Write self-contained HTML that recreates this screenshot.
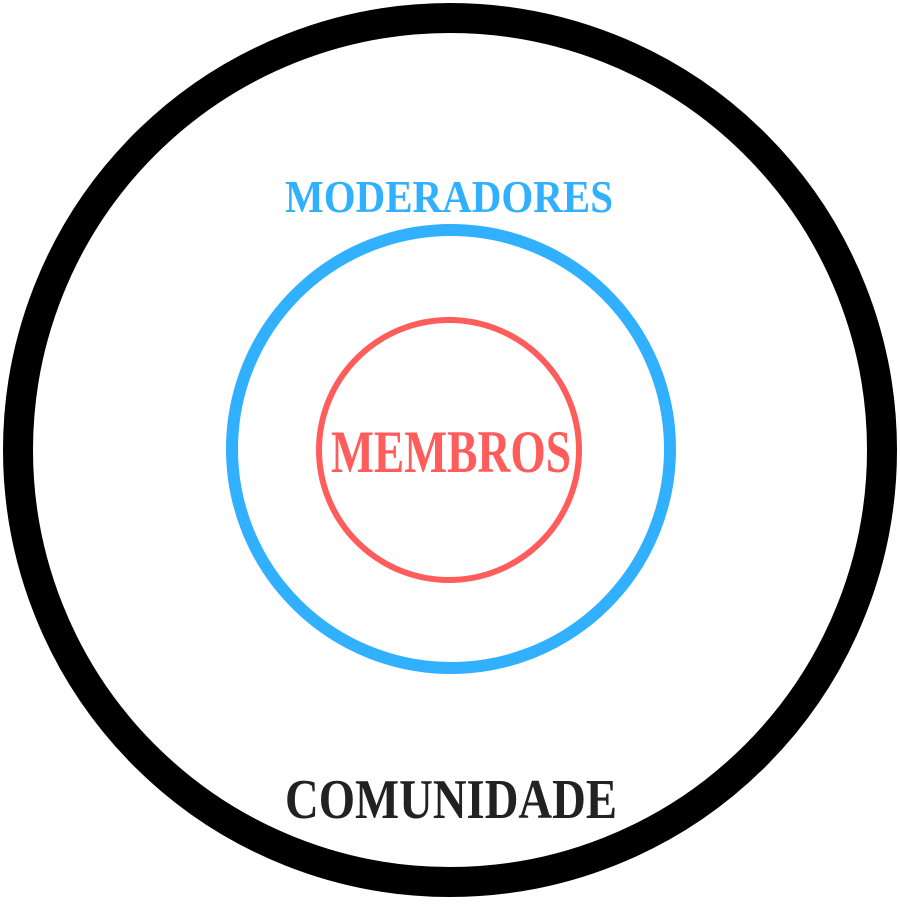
<!DOCTYPE html>
<html><head><style>html,body{margin:0;padding:0;background:#fff;}</style></head>
<body>
<svg width="900" height="900" viewBox="0 0 900 900" xmlns="http://www.w3.org/2000/svg">
<rect width="900" height="900" fill="#fff"/>
<circle cx="450" cy="450" r="432" fill="none" stroke="#000" stroke-width="30"/>
<circle cx="451" cy="449" r="219" fill="none" stroke="#30b0ff" stroke-width="12"/>
<circle cx="449" cy="450" r="130" fill="none" stroke="#ff5c5c" stroke-width="6"/>
<g font-family="'Liberation Serif', serif" font-weight="bold">
<text x="285" y="212" font-size="46" fill="#30b0ff" textLength="328" lengthAdjust="spacingAndGlyphs">MODERADORES</text>
<text x="331" y="472" font-size="60" fill="#ff5c5c" textLength="240" lengthAdjust="spacingAndGlyphs">MEMBROS</text>
<text x="285" y="818" font-size="56" fill="#222" textLength="332" lengthAdjust="spacingAndGlyphs">COMUNIDADE</text>
</g>
</svg>
</body></html>
